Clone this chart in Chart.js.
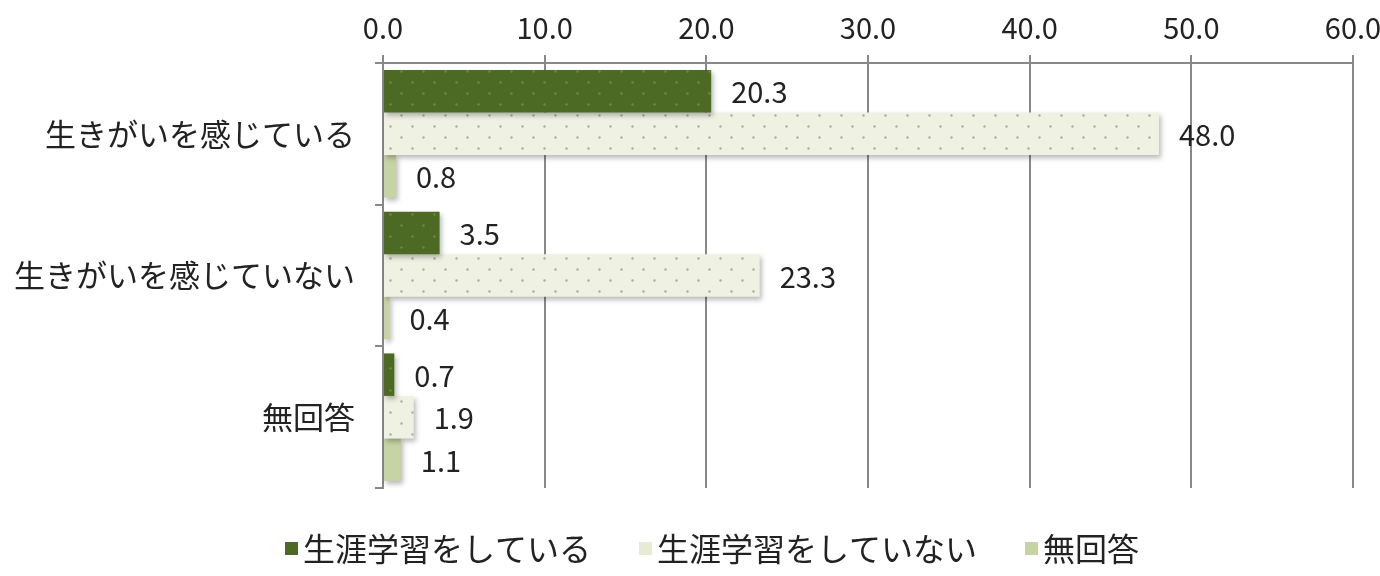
<!DOCTYPE html>
<html>
<head>
<meta charset="utf-8">
<script src="https://cdn.jsdelivr.net/npm/chart.js@4/dist/chart.umd.min.js"></script>
<style>
  html, body { margin: 0; padding: 0; background: #fff; }
  #wrap { width: 1380px; height: 576px; }
</style>
</head>
<body>
<div id="wrap"><canvas id="c" width="1380" height="576"></canvas></div>
<script>
const categories = ['生きがいを感じている', '生きがいを感じていない', '無回答'];
const seriesNames = ['生涯学習をしている', '生涯学習をしていない', '無回答'];
const doingValues = [20.3, 3.5, 0.7];
const notDoingValues = [48.0, 23.3, 1.9];
const noAnswerValues = [0.8, 0.4, 1.1];
const xTicks = [0, 10, 20, 30, 40, 50, 60];

const FONT = '"Noto Sans CJK JP", "Noto Sans", sans-serif';
const legendColors = ['#4d6a24', '#e6ebd6', '#c6d4a4'];

function dotPattern(base, dot, step) {
  const p = document.createElement('canvas');
  p.width = step * 2; p.height = step * 2;
  const g = p.getContext('2d');
  g.fillStyle = base; g.fillRect(0, 0, p.width, p.height);
  g.fillStyle = dot;
  for (const [x, y] of [[step / 2, step / 2], [step * 1.5, step * 1.5]]) {
    g.beginPath(); g.arc(x, y, 1.2, 0, Math.PI * 2); g.fill();
  }
  return document.getElementById('c').getContext('2d').createPattern(p, 'repeat');
}

const darkFill = dotPattern('#4d6a24', '#6f8a47', 11);
const lightFill = dotPattern('#eff1e3', '#a9b09a', 11);

// soft drop shadow under the bars
const barShadow = {
  id: 'barShadow',
  beforeDatasetsDraw(chart) {
    const ctx = chart.ctx;
    ctx.save();
    ctx.shadowColor = 'rgba(0,0,0,0.28)';
    ctx.shadowBlur = 5;
    ctx.shadowOffsetX = 2;
    ctx.shadowOffsetY = 3;
  },
  afterDatasetsDraw(chart) { chart.ctx.restore(); }
};

const valueLabels = {
  id: 'valueLabels',
  afterDatasetsDraw(chart) {
    const ctx = chart.ctx;
    ctx.save();
    ctx.font = '29px ' + FONT;
    ctx.fillStyle = '#222';
    ctx.textAlign = 'left';
    ctx.textBaseline = 'middle';
    chart.data.datasets.forEach((ds, i) => {
      chart.getDatasetMeta(i).data.forEach((bar, j) => {
        ctx.fillText(ds.data[j].toFixed(1), bar.x + 20, bar.y + 1);
      });
    });
    ctx.restore();
  }
};

// legend drawn by hand: small box, tight gap to text
const bottomLegend = {
  id: 'bottomLegend',
  afterDraw(chart) {
    const ctx = chart.ctx;
    ctx.save();
    ctx.font = '32px ' + FONT;
    ctx.textBaseline = 'middle';
    ctx.textAlign = 'left';
    let x = 285;
    const y = 549;
    chart.data.datasets.forEach((ds, i) => {
      ctx.fillStyle = legendColors[i];
      ctx.fillRect(x, y - 7, 13, 13);
      x += 18;
      ctx.fillStyle = '#222';
      ctx.fillText(ds.label, x, y);
      x += ctx.measureText(ds.label).width + 48;
    });
    ctx.restore();
  }
};

new Chart(document.getElementById('c'), {
  type: 'bar',
  data: {
    labels: categories,
    datasets: [
      { label: seriesNames[0], data: doingValues, backgroundColor: darkFill, borderWidth: 0 },
      { label: seriesNames[1], data: notDoingValues, backgroundColor: lightFill, borderWidth: 0 },
      { label: seriesNames[2], data: noAnswerValues, backgroundColor: '#c6d4a4', borderWidth: 0 },
    ]
  },
  options: {
    indexAxis: 'y',
    responsive: false,
    animation: false,
    categoryPercentage: 0.9,
    barPercentage: 1.0,
    layout: { padding: { left: 0, right: 27, top: 0, bottom: 88 } },
    plugins: {
      tooltip: { enabled: false },
      legend: { display: false }
    },
    scales: {
      x: {
        position: 'top',
        min: 0, max: 60,
        afterBuildTicks(axis) { axis.ticks = xTicks.map(v => ({ value: v })); },
        afterFit(axis) { axis.height = 63; axis.paddingLeft = 0; axis.paddingRight = 0; },
        ticks: { font: { size: 29, family: FONT }, color: '#222', padding: 10, callback: v => v.toFixed(1) },
        grid: { color: '#888', lineWidth: 2, tickLength: 8 },
        border: { color: '#888', width: 2 }
      },
      y: {
        afterFit(axis) { axis.width = 383; },
        ticks: { font: { size: 31, family: FONT }, color: '#222', padding: 20 },
        grid: { drawOnChartArea: false, color: '#888', lineWidth: 2, tickLength: 8 },
        border: { color: '#888', width: 2 }
      }
    }
  },
  plugins: [barShadow, valueLabels, bottomLegend]
});
</script>
</body>
</html>
